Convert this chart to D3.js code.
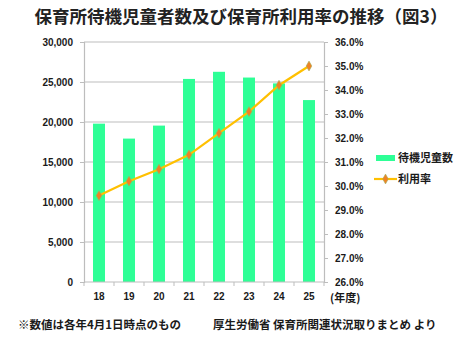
<!DOCTYPE html>
<html><head><meta charset="utf-8">
<script src="https://cdn.jsdelivr.net/npm/d3@7"></script>
<style>
html,body{margin:0;padding:0;background:#fff;}
svg{display:block;font-family:"Noto Sans CJK JP","Noto Sans",sans-serif;}
</style></head>
<body><svg id="c" width="464" height="338"></svg>
<script>
const years = ["18","19","20","21","22","23","24","25"];
const waiting = [19794,17926,19550,25384,26275,25556,24825,22741];
const rate = [29.6,30.2,30.7,31.3,32.2,33.1,34.2,35.0];
const leftTicks = [0,5000,10000,15000,20000,25000,30000];
const rightTicks = [26,27,28,29,30,31,32,33,34,35,36];
const title = "保育所待機児童者数及び保育所利用率の推移（図3）";
const note1 = "※数値は各年4月1日時点のもの";
const note2 = "厚生労働省 保育所関連状況取りまとめ より";
const legendLabels = ["待機児童数","利用率"];

const svg = d3.select("#c");
const L = 84, R = 324, T = 42, B = 282;
const x = d3.scaleBand().domain(years).range([L,R]).paddingInner(0.6).paddingOuter(0.3);
const xb = d3.scaleBand().domain(years).range([L,R]);
const y = d3.scaleLinear().domain([0,30000]).range([B,T]);
const y2 = d3.scaleLinear().domain([26,36]).range([B,T]);

const green = "#2EFF96", lineC = "#FFC000", mark = "#F08224", grid = "#bdbdbd", txt = "#1a1a1a";

svg.append("text").attr("x",241).attr("y",23).attr("text-anchor","middle")
  .attr("font-size",17.5).attr("font-weight","bold").attr("fill","#222").text(title);

svg.append("g").selectAll("line").data(leftTicks.filter(d=>d>0)).join("line")
  .attr("x1",L).attr("x2",R).attr("y1",d=>y(d)).attr("y2",d=>y(d))
  .attr("stroke",grid).attr("stroke-width",1.2);

svg.append("g").selectAll("rect").data(waiting).join("rect")
  .attr("x",(d,i)=>x(years[i])).attr("width",x.bandwidth())
  .attr("y",d=>y(d)).attr("height",d=>B-y(d)).attr("fill",green);

const ga = svg.append("g").attr("transform",`translate(${L},0)`)
  .call(d3.axisLeft(y).tickValues(leftTicks).tickSize(4).tickPadding(7).tickFormat(d3.format(",")));
const gr = svg.append("g").attr("transform",`translate(${R},0)`)
  .call(d3.axisRight(y2).tickValues(rightTicks).tickSize(4).tickPadding(7).tickFormat(d=>d.toFixed(1)+"%"));
const gb = svg.append("g").attr("transform",`translate(0,${B})`)
  .call(d3.axisBottom(xb).tickSize(0).tickPadding(11));
gb.append("g").selectAll("line").data(years.concat(["end"])).join("line")
  .attr("x1",(d,i)=>L+i*xb.bandwidth()).attr("x2",(d,i)=>L+i*xb.bandwidth())
  .attr("y1",0).attr("y2",4).attr("stroke",grid);
[ga,gr,gb].forEach(g=>{
  g.selectAll(".domain").attr("stroke",grid).attr("stroke-width",1.2);
  g.selectAll(".tick line").attr("stroke",grid);
  g.selectAll("text").attr("font-size",10).attr("font-weight","bold").attr("fill",txt)
    .attr("font-family","'Liberation Sans',Arial,sans-serif");
});
gb.select(".domain").attr("d",`M${L},0H${R}`);
svg.append("text").attr("x",330).attr("y",302).attr("font-size",11).attr("font-weight","bold")
  .attr("fill",txt).text("(年度)");

const line = d3.line().x((d,i)=>xb(years[i])+xb.bandwidth()/2).y(d=>y2(d));
svg.append("path").datum(rate).attr("d",line).attr("fill","none").attr("stroke",lineC).attr("stroke-width",2.2);
const diamond = d3.symbol().type(d3.symbolDiamond).size(28);
svg.append("g").selectAll("path").data(rate).join("path")
  .attr("d",diamond)
  .attr("transform",(d,i)=>`translate(${xb(years[i])+xb.bandwidth()/2},${y2(d)})`)
  .attr("fill",mark).attr("stroke","#a0b060").attr("stroke-width",0.6);

svg.append("rect").attr("x",376).attr("y",155).attr("width",19).attr("height",6).attr("fill",green);
svg.append("text").attr("x",398).attr("y",162).attr("font-size",11).attr("font-weight","bold").attr("fill",txt).text(legendLabels[0]);
svg.append("line").attr("x1",374).attr("x2",397).attr("y1",179).attr("y2",179).attr("stroke",lineC).attr("stroke-width",2.2);
svg.append("path").attr("d",diamond).attr("transform","translate(385.5,179)").attr("fill",mark).attr("stroke","#a0b060").attr("stroke-width",0.6);
svg.append("text").attr("x",398).attr("y",183).attr("font-size",11).attr("font-weight","bold").attr("fill",txt).text(legendLabels[1]);

svg.append("text").attr("x",18).attr("y",329).attr("font-size",11.5).attr("font-weight","bold").attr("fill",txt).text(note1);
svg.append("text").attr("x",213).attr("y",329).attr("font-size",11.5).attr("font-weight","bold").attr("fill",txt).text(note2);
</script></body></html>
